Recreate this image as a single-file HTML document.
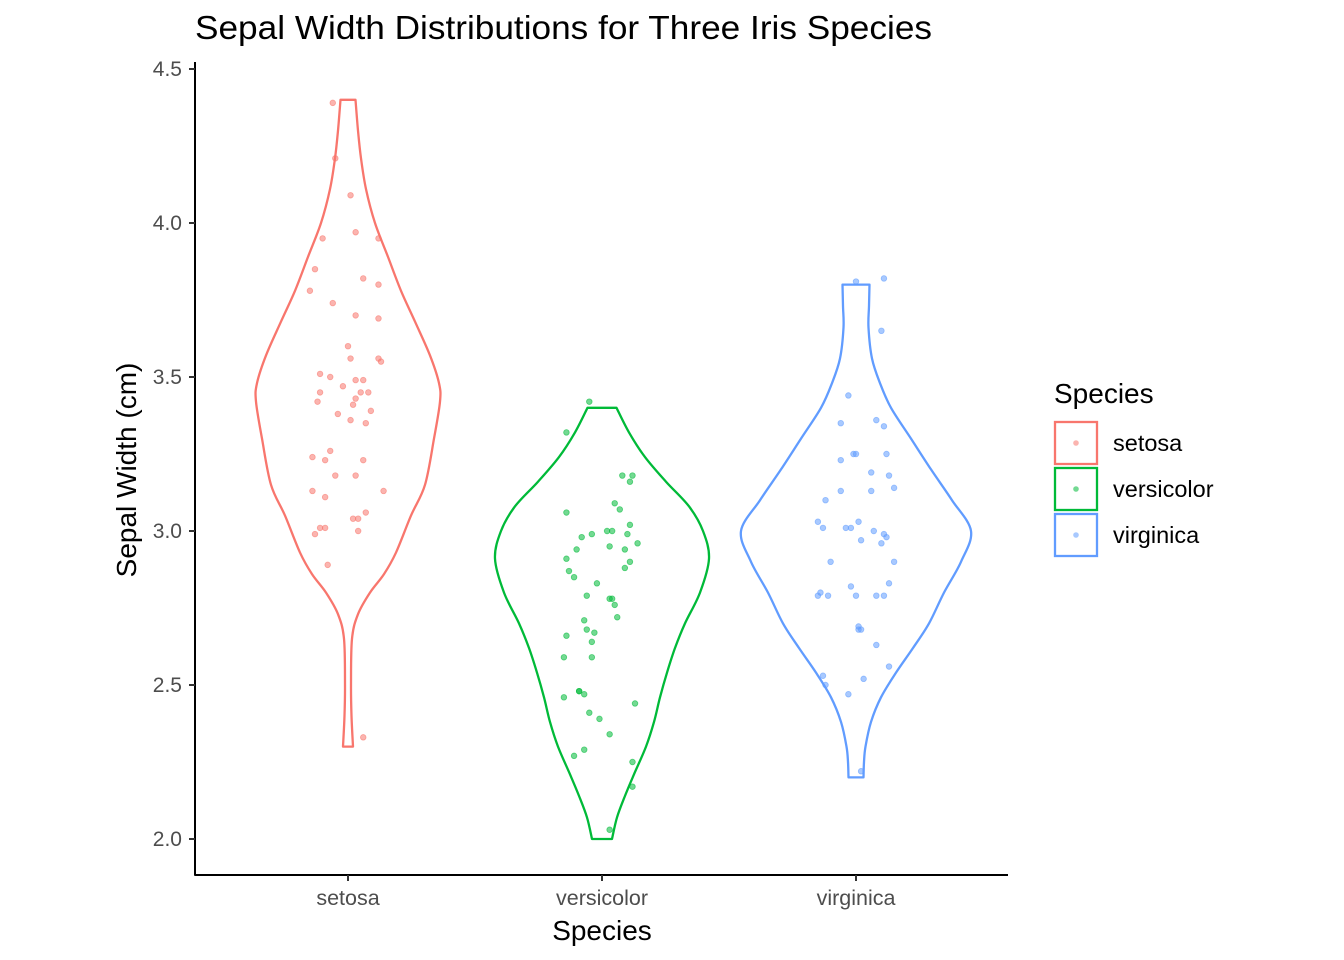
<!DOCTYPE html>
<html><head><meta charset="utf-8"><style>
html,body{margin:0;padding:0;background:#fff;}
svg{display:block;font-family:"Liberation Sans",Arial,sans-serif;}
</style></head><body>
<svg id="chart" width="1344" height="960" viewBox="0 0 1344 960" xmlns="http://www.w3.org/2000/svg">
<rect width="1344" height="960" fill="#fff"/>
<text x="195" y="39" font-size="33" textLength="737" lengthAdjust="spacingAndGlyphs" fill="#000">Sepal Width Distributions for Three Iris Species</text>
<g id="plot"></g>
<g id="axes"></g>
<text x="602" y="940" font-size="28" text-anchor="middle" fill="#000">Species</text>
<text transform="translate(136,470) rotate(-90)" font-size="28" text-anchor="middle" fill="#000">Sepal Width (cm)</text>
<g id="legend">
<text x="1054" y="403" font-size="28" fill="#000">Species</text>
</g>
</svg>
<script>
const categories = ["setosa","versicolor","virginica"];
const colors = ["#F8766D","#00BA38","#619CFF"];
const yTicks = [2.0,2.5,3.0,3.5,4.0,4.5];
const yTickLabels = ["2.0","2.5","3.0","3.5","4.0","4.5"];

// violin density outlines (value, half-width density)
const setosaGridY = [4.4,4.3,4.21,4.11,4.0,3.89,3.78,3.68,3.57,3.48,3.42,3.3,3.15,3.05,2.93,2.86,2.8,2.73,2.65,2.5,2.4,2.3];
const setosaDens  = [0.075,0.10,0.13,0.18,0.27,0.40,0.53,0.67,0.82,0.91,0.92,0.86,0.77,0.63,0.48,0.36,0.22,0.10,0.04,0.03,0.035,0.05];
const versiGridY = [3.4,3.32,3.24,3.16,3.08,3.0,2.91,2.8,2.7,2.62,2.54,2.46,2.38,2.3,2.21,2.14,2.07,2.0];
const versiDens  = [0.145,0.27,0.43,0.64,0.87,1.01,1.07,0.98,0.83,0.73,0.65,0.58,0.52,0.44,0.32,0.23,0.15,0.10];
const virgiGridY = [3.8,3.73,3.66,3.56,3.48,3.4,3.3,3.2,3.1,3.0,2.9,2.8,2.7,2.62,2.54,2.46,2.38,2.3,2.25,2.2];
const virgiDens  = [0.135,0.13,0.125,0.16,0.24,0.35,0.55,0.75,0.96,1.15,1.05,0.88,0.73,0.57,0.40,0.25,0.15,0.095,0.08,0.075];

// jittered points: values and jitter offsets (category units)
const setosaVals = [4.39,4.21,4.09,3.97,3.95,3.95,3.85,3.82,3.80,3.78,3.74,3.70,3.69,3.60,3.56,3.56,3.55,3.51,3.50,3.49,3.49,3.47,3.45,3.45,3.45,3.42,3.43,3.41,3.39,3.38,3.36,3.35,3.26,3.24,3.23,3.23,3.18,3.18,3.13,3.13,3.11,3.06,3.04,3.04,3.01,3.01,3.00,2.99,2.89,2.33];
const setosaJit  = [-0.06,-0.05,0.01,0.03,-0.10,0.12,-0.13,0.06,0.12,-0.15,-0.06,0.03,0.12,0,0.01,0.12,0.13,-0.11,-0.07,0.03,0.06,-0.02,0.05,0.08,-0.11,-0.12,0.03,0.02,0.09,-0.04,0.01,0.07,-0.07,-0.14,-0.09,0.06,-0.05,0.03,-0.14,0.14,-0.09,0.07,0.02,0.04,-0.11,-0.09,0.04,-0.13,-0.08,0.06];
const versiVals = [3.42,3.32,3.18,3.18,3.16,3.09,3.07,3.06,3.02,3.00,3.00,2.99,2.99,2.98,2.96,2.95,2.94,2.94,2.91,2.90,2.88,2.87,2.85,2.83,2.79,2.78,2.78,2.76,2.72,2.71,2.68,2.67,2.66,2.64,2.59,2.59,2.48,2.48,2.47,2.46,2.44,2.41,2.39,2.34,2.29,2.27,2.25,2.17,2.03];
const versiJit  = [-0.05,-0.14,0.08,0.12,0.11,0.05,0.07,-0.14,0.11,0.02,0.04,-0.04,0.10,-0.08,0.14,0.03,0.09,-0.10,-0.14,0.11,0.09,-0.13,-0.11,-0.02,-0.06,0.03,0.04,0.05,0.06,-0.07,-0.06,-0.03,-0.14,-0.04,-0.15,-0.04,-0.09,-0.09,-0.07,-0.15,0.13,-0.05,-0.01,0.03,-0.07,-0.11,0.12,0.12,0.03];
const virgiVals = [3.81,3.82,3.65,3.44,3.36,3.35,3.34,3.25,3.25,3.25,3.23,3.19,3.18,3.14,3.13,3.13,3.10,3.03,3.03,3.01,3.01,3.01,3.00,2.99,2.98,2.97,2.96,2.90,2.90,2.82,2.83,2.80,2.79,2.79,2.79,2.79,2.79,2.69,2.68,2.68,2.63,2.56,2.53,2.52,2.50,2.47,2.22];
const virgiJit  = [0,0.11,0.10,-0.03,0.08,-0.06,0.11,0,-0.01,0.12,-0.06,0.06,0.13,0.15,0.06,-0.06,-0.12,0.01,-0.15,-0.04,-0.02,-0.13,0.07,0.11,0.12,0.02,0.10,0.15,-0.10,-0.02,0.13,-0.14,-0.15,-0.11,0,0.08,0.11,0.01,0.01,0.02,0.08,0.13,-0.13,0.03,-0.12,-0.03,0.02];

const X0=195, X1=1008, Y0=62, Y1=875;
const bandW = 254;
function xScale(i){ return 348 + i*bandW; }
function yScale(v){ return 839 - (v-2.0)*308; }
const densScale = 100;
const NS="http://www.w3.org/2000/svg";
function mk(tag, attrs, parent){ const e=document.createElementNS(NS,tag); for(const k in attrs) e.setAttribute(k,attrs[k]); parent.appendChild(e); return e; }

function catmull(pts){
  let d="";
  for(let i=0;i<pts.length-1;i++){
    const p0=pts[Math.max(i-1,0)], p1=pts[i], p2=pts[i+1], p3=pts[Math.min(i+2,pts.length-1)];
    const c1=[p1[0]+(p2[0]-p0[0])/6, p1[1]+(p2[1]-p0[1])/6];
    const c2=[p2[0]-(p3[0]-p1[0])/6, p2[1]-(p3[1]-p1[1])/6];
    d+=` C${c1[0].toFixed(2)},${c1[1].toFixed(2)} ${c2[0].toFixed(2)},${c2[1].toFixed(2)} ${p2[0].toFixed(2)},${p2[1].toFixed(2)}`;
  }
  return d;
}

const plot=document.getElementById('plot');
const grids=[setosaGridY,versiGridY,virgiGridY];
const dens=[setosaDens,versiDens,virgiDens];
const vals=[setosaVals,versiVals,virgiVals];
const jits=[setosaJit,versiJit,virgiJit];

for(let s=0;s<3;s++){
  const cx=xScale(s);
  const right=grids[s].map((v,i)=>[cx+dens[s][i]*densScale, yScale(v)]);
  const left=grids[s].map((v,i)=>[cx-dens[s][i]*densScale, yScale(v)]).reverse();
  let d=`M${left[left.length-1][0]},${left[left.length-1][1]} L${right[0][0]},${right[0][1]}`+catmull(right)+` L${left[0][0]},${left[0][1]}`+catmull(left)+" Z";
  const p=mk('path',{d:d,fill:'none',stroke:colors[s],'stroke-width':2.3,'stroke-linejoin':'round'},plot);
  
  
  const g=mk('g',{},plot);
  
  
  vals[s].forEach((v,i)=>{
    const c=mk('circle',{cx:cx+jits[s][i]*bandW, cy:yScale(v), r:2.8, fill:colors[s], 'fill-opacity':0.55, stroke:colors[s],'stroke-opacity':0.6,'stroke-width':0.8},g);
    
    
  });
}

const axes=document.getElementById('axes');
const ya=mk('line',{x1:X0,y1:Y0,x2:X0,y2:Y1+0.5,stroke:'#000','stroke-width':2},axes);


const xa=mk('line',{x1:X0-0.5,y1:Y1,x2:X1,y2:Y1,stroke:'#000','stroke-width':2},axes);


yTicks.forEach((t,i)=>{
  const y=yScale(t);
  const tk=mk('line',{x1:X0-6,y1:y,x2:X0,y2:y,stroke:'#333','stroke-width':2},axes);
  
  
  const tx=mk('text',{x:X0-13,y:y+7,'font-size':21,'text-anchor':'end',fill:'#4d4d4d'},axes);
  tx.textContent=yTickLabels[i];
  
  
});
categories.forEach((c,i)=>{
  const x=xScale(i);
  const tk=mk('line',{x1:x,y1:Y1,x2:x,y2:Y1+6,stroke:'#333','stroke-width':2},axes);
  
  
  const tx=mk('text',{x:x,y:905,'font-size':21.5,'text-anchor':'middle',fill:'#4d4d4d'},axes);
  tx.textContent=c;
  
  
});

const legend=document.getElementById('legend');
categories.forEach((c,i)=>{
  const y=422+i*46;
  const r=mk('rect',{x:1055,y:y,width:42,height:42,fill:'#fff',stroke:colors[i],'stroke-width':2.3},legend);
  
  
  const d=mk('circle',{cx:1076,cy:y+21,r:2.8,fill:colors[i],'fill-opacity':0.55},legend);
  
  
  const t=mk('text',{x:1113,y:y+29,'font-size':23.5,fill:'#000'},legend);
  t.textContent=c;
  
  
});
</script>
</body></html>
